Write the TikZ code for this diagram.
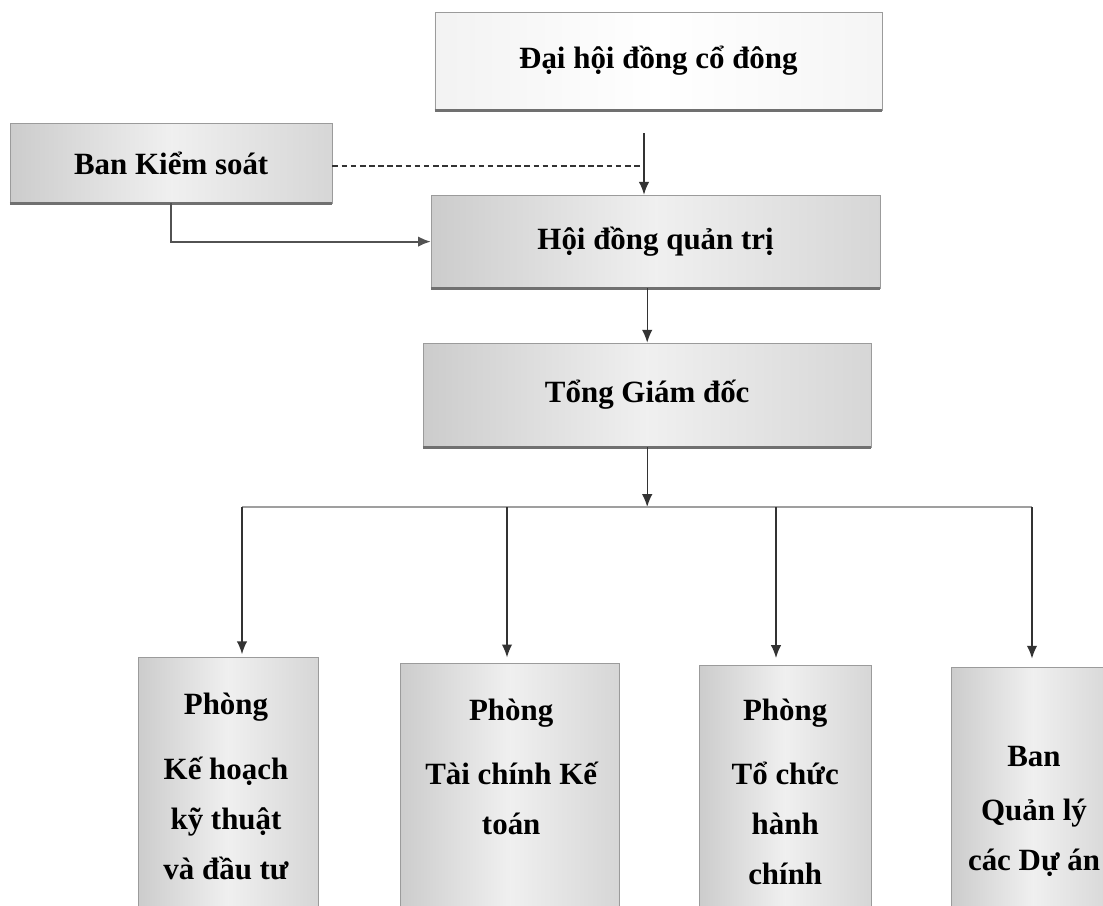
\documentclass[tikz,border=0pt]{standalone}
\usepackage{fontspec}
\setmainfont{Liberation Serif}
\usetikzlibrary{arrows.meta}
\definecolor{linegray}{HTML}{333333}
\definecolor{edgegray}{HTML}{707070}

\begin{document}
\begin{tikzpicture}[
    box/.style={draw=edgegray!70,line width=0.4pt,left color=gray!40,right color=gray!32,middle color=gray!12,inner sep=0pt,font=\fontsize{22}{26}\selectfont\bfseries},
    topbox/.style={box,left color=gray!10,right color=gray!8,middle color=white},
    lowbox/.style={box,anchor=north,minimum height=6.8cm},
    lbl/.style={anchor=north,inner sep=0pt,align=center,font=\fontsize{22}{35.6}\selectfont\bfseries},
    link/.style={draw=linegray,line width=1pt},
    arr/.style={link,-{Latex[length=3.2mm,width=2.6mm]}},
    boxedge/.style={draw=edgegray,line width=2.2pt}
  ]
    \useasboundingbox (0,0) rectangle (27.575,-22.625);
    \clip (0,0) rectangle (27.575,-22.625);
    \fill[white] (0,0) rectangle (27.575,-22.625);
    \node[topbox,minimum width=11.18cm,minimum height=2.45cm] (dh) at (16.46,-1.525) {Đại hội đồng cổ đông};
    \node[box,minimum width=8.05cm,minimum height=2.0cm] (bks) at (4.28,-4.08) {Ban Kiểm soát};
    \node[box,minimum width=11.22cm,minimum height=2.33cm] (hd) at (16.39,-6.04) {Hội đồng quản trị};
    \node[box,minimum width=11.2cm,minimum height=2.6cm] (tgd) at (16.18,-9.875) {Tổng Giám đốc};
    \foreach \n in {dh,bks,hd,tgd}
      \draw[boxedge] (\n.south west) -- (\n.south east);
    \node[lowbox,minimum width=4.5cm] (kh) at (5.7,-16.425) {};
    \node[lowbox,minimum width=5.475cm] (tc) at (12.74,-16.575) {};
    \node[lowbox,minimum width=4.3cm] (hc) at (19.625,-16.625) {};
    \node[lowbox,minimum width=4.1cm] (da) at (25.825,-16.675) {};
    \node[lbl] (khtext) at (5.65,-17.33) {Phòng\\[0.35cm]Kế hoạch\\kỹ thuật\\và đầu tư};
    \node[lbl] (tctext) at (12.78,-17.475) {Phòng\\[0.35cm]Tài chính Kế\\toán};
    \node[lbl] (hctext) at (19.63,-17.475) {Phòng\\[0.35cm]Tổ chức\\hành\\chính};
    \node[lbl] (datext) at (25.85,-18.65) {Ban\\[0.1cm]Quản lý\\các Dự án};
    \coordinate (dtop) at (16.1,-3.33);
    \coordinate (meet) at (16.1,-4.15);
    \coordinate (busl) at (6.05,-12.675);
    \coordinate (busr) at (25.8,-12.675);
    \coordinate (busa) at (12.675,-12.675);
    \coordinate (busb) at (19.4,-12.675);
    \coordinate (busm) at (16.18,-12.675);
    \draw[link,line width=1.3pt,dash pattern=on 4pt off 2.5pt] (bks.east |- meet) -- (meet);
    \draw[arr] (dtop) -- (dtop |- hd.north);
    \draw[arr,line width=1.5pt,draw=linegray!85] (bks.south) |- (hd.west);
    \draw[arr] (hd.south -| tgd.north) -- (tgd.north);
    \draw[arr] (tgd.south) -- (busm);
    \draw[link,line width=1.4pt,draw=gray!75] (busl) -- (busr);
    \draw[arr,shorten >=2pt] (busl) -- (busl |- kh.north);
    \draw[arr,shorten >=4pt] (busa) -- (busa |- tc.north);
    \draw[arr,shorten >=5pt] (busb) -- (busb |- hc.north);
    \draw[arr,shorten >=6pt] (busr) -- (busr |- da.north);
  \end{tikzpicture}
\end{document}
